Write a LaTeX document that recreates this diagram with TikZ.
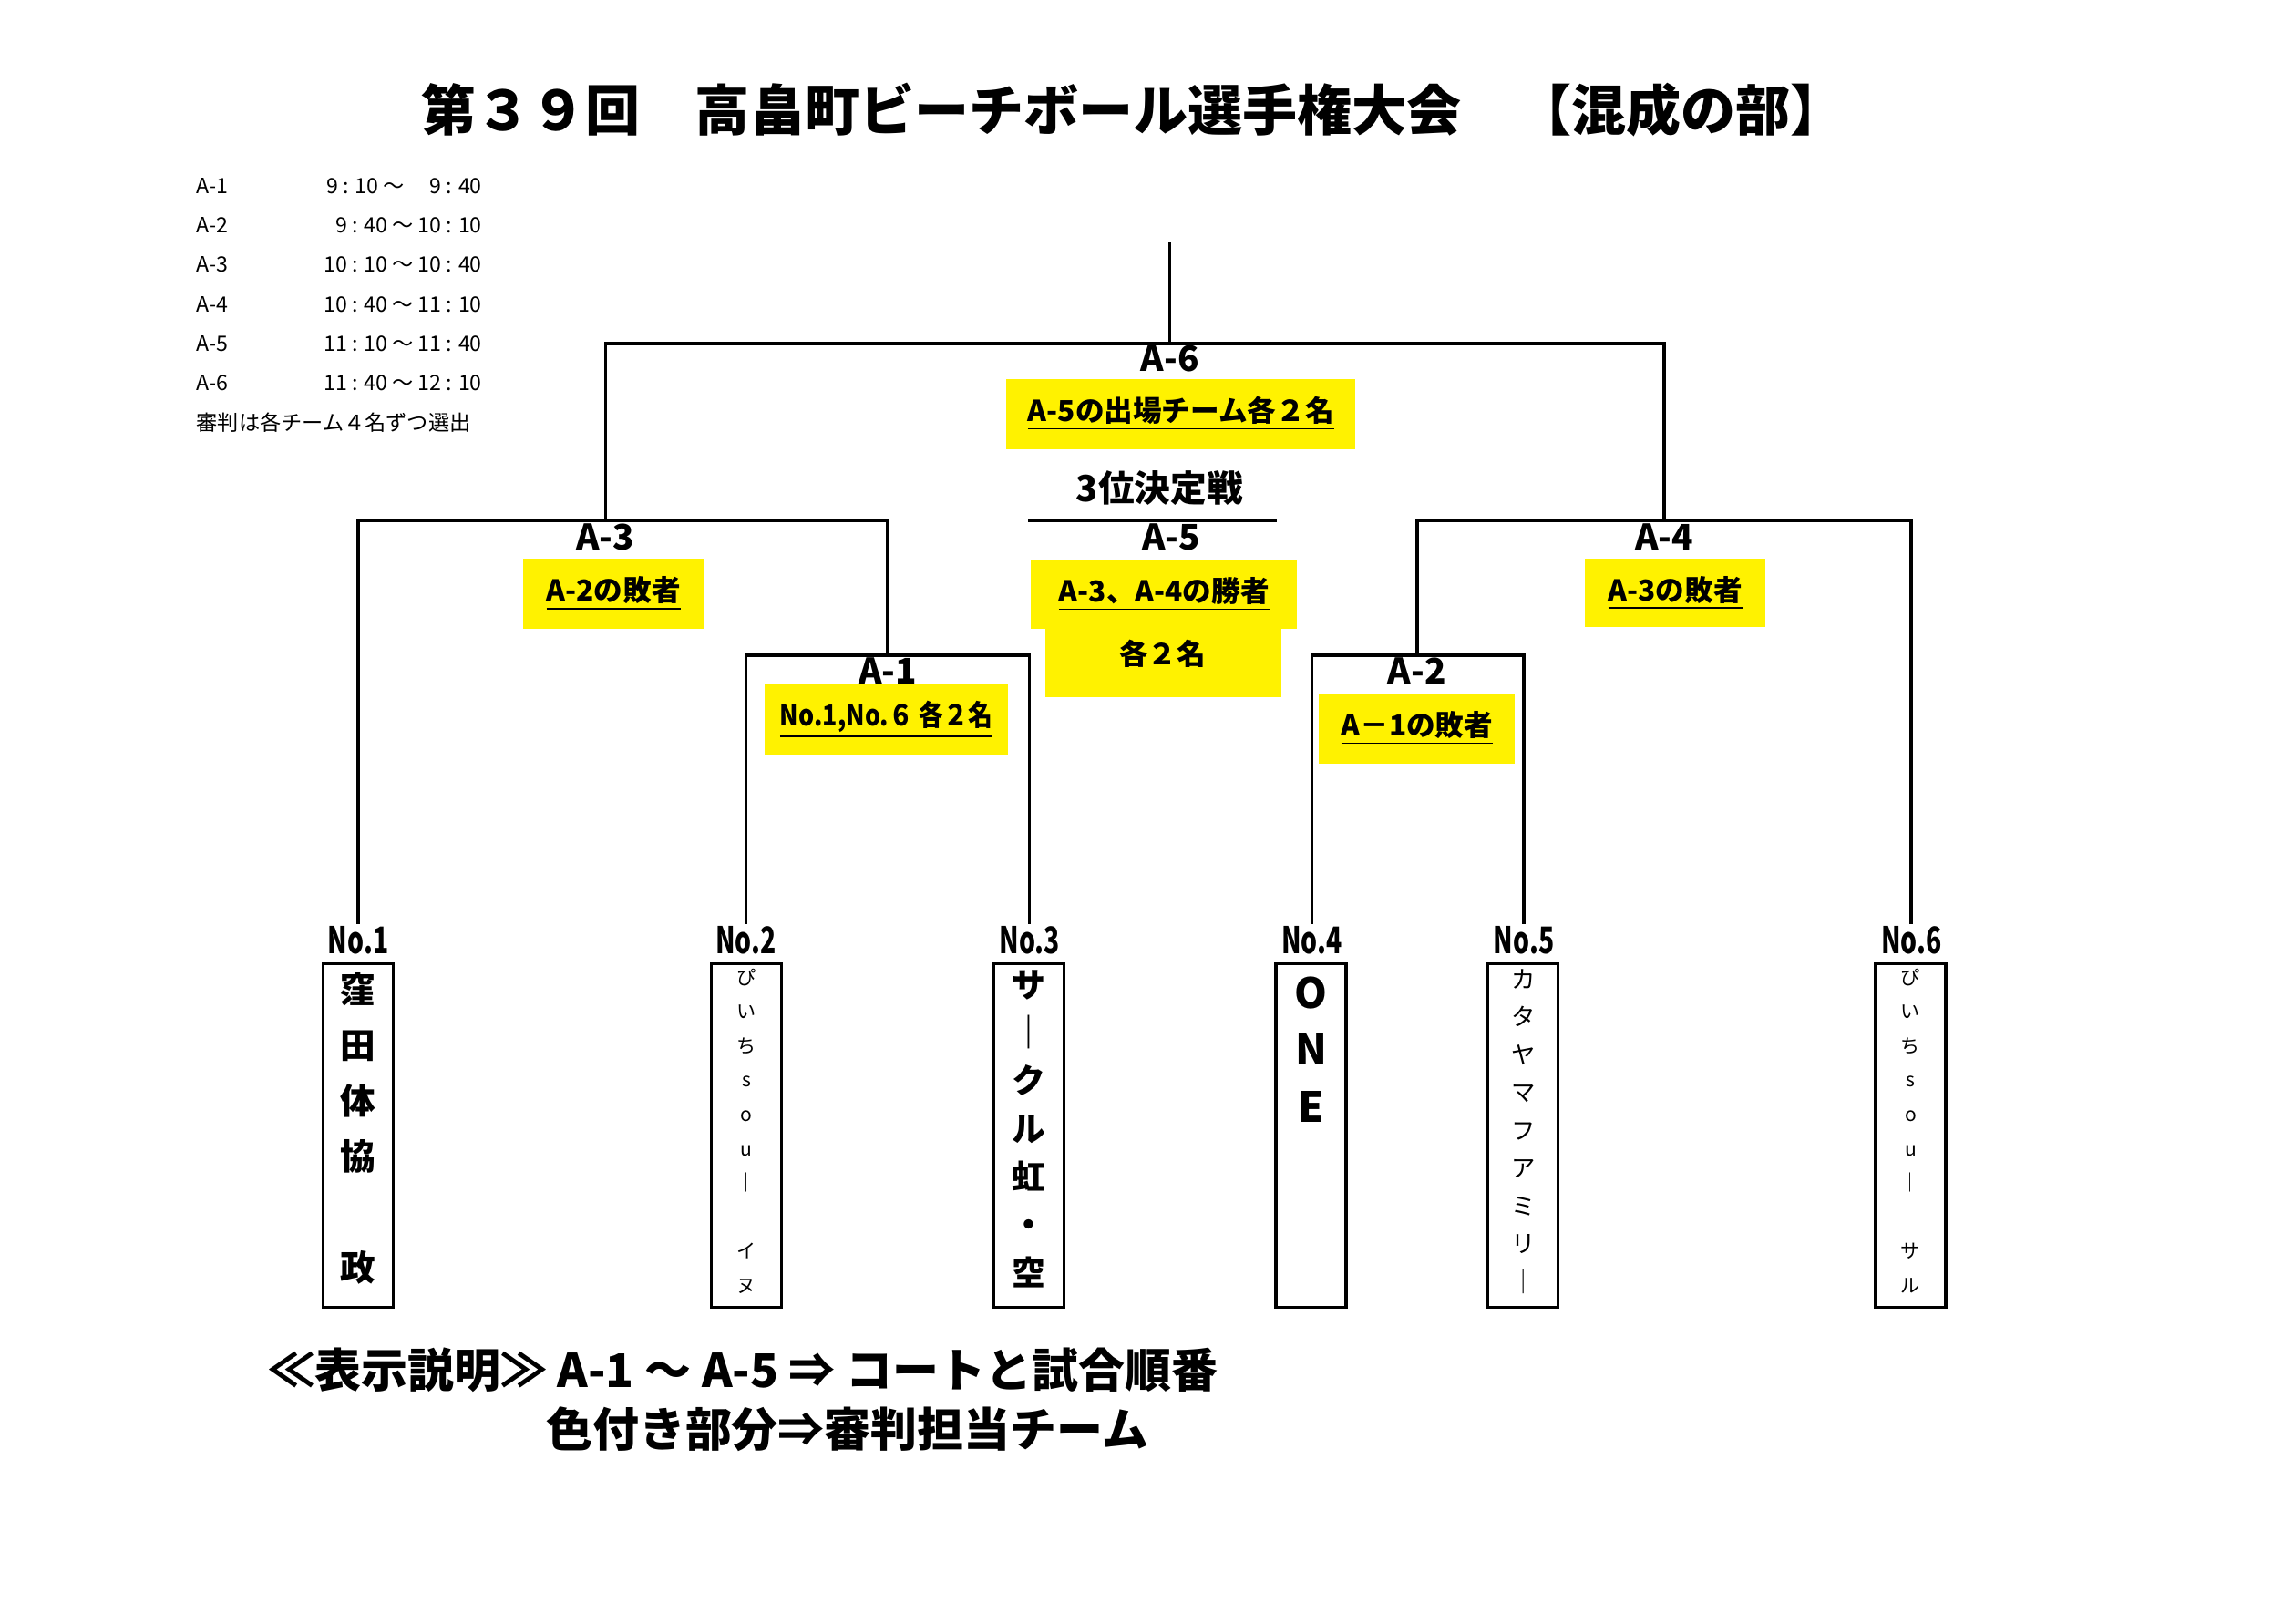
\documentclass[tikz,border=0pt]{standalone}
\usepackage{graphicx}
\usepackage{fontspec}
\setmainfont{Noto Sans CJK JP}[BoldFont={Noto Sans CJK JP Black}]
\usepackage{tikz}
\newlength\pxu
\setlength\pxu{0.016046cm}
\tikzset{
  wire/.style={line width=1pt},
  titletext/.style={font=\fontsize{17.1}{20}\selectfont\bfseries, inner sep=0pt},
  sched/.style={font=\fontsize{6.6}{8}\selectfont, inner sep=0pt},
  matchlabel/.style={font=\fontsize{11}{13}\selectfont\bfseries, inner sep=0pt},
  refbox/.style={fill=yellow, inner sep=0pt, font=\fontsize{9}{11}\selectfont\bfseries},
  numlabel/.style={font=\fontsize{11.5}{13}\selectfont\bfseries, inner sep=0.5pt},
  teambox/.style={draw, line width=1pt, minimum width=48\pxu, minimum height=235\pxu, inner sep=0pt},
  vtext/.style={align=center, inner sep=0pt, anchor=north},
  legend/.style={font=\fontsize{14.5}{17}\selectfont\bfseries, inner sep=0pt, anchor=west}
}

\begin{document}
\begin{tikzpicture}[x=0.016046cm, y=-0.016046cm]
  \useasboundingbox (0,0) rectangle (1568,1110);
  \node[titletext] (title) at (775,75) {第３９回　高畠町ビーチボール選手権大会　【混成の部】}; % title

  % time table
  \node[sched, anchor=west] (s1) at (134,127) {A-1};
  \node[sched, anchor=east] (s1t) at (330,127) {9 : 10 ～\hspace{1.2em}9 : 40};
  \node[sched, anchor=west] (s2) at (134,154) {A-2};
  \node[sched, anchor=east] (s2t) at (330,154) {9 : 40 ～ 10 : 10};
  \node[sched, anchor=west] (s3) at (134,181) {A-3};
  \node[sched, anchor=east] (s3t) at (330,181) {10 : 10 ～ 10 : 40};
  \node[sched, anchor=west] (s4) at (134,208) {A-4};
  \node[sched, anchor=east] (s4t) at (330,208) {10 : 40 ～ 11 : 10};
  \node[sched, anchor=west] (s5) at (134,235) {A-5};
  \node[sched, anchor=east] (s5t) at (330,235) {11 : 10 ～ 11 : 40};
  \node[sched, anchor=west] (s6) at (134,262) {A-6};
  \node[sched, anchor=east] (s6t) at (330,262) {11 : 40 ～ 12 : 10};
  \node[sched, anchor=west] (snote) at (134,289) {審判は各チーム４名ずつ選出};

  % match points
  \coordinate (top) at (800,165);
  \coordinate (a6) at (800,235);
  \coordinate (a3) at (414,356);
  \coordinate (a4) at (1138,356);
  \coordinate (a1) at (607,448);
  \coordinate (a2) at (969,448);
  \coordinate (a5l) at (703,356);
  \coordinate (a5r) at (873,356);

  % team labels and boxes
  \node[numlabel] (no1) at (245,643) {\scalebox{0.7}[1]{No.1}};
  \node[numlabel] (no2) at (510,643) {\scalebox{0.7}[1]{No.2}};
  \node[numlabel] (no3) at (704,643) {\scalebox{0.7}[1]{No.3}};
  \node[numlabel] (no4) at (897,643) {\scalebox{0.7}[1]{No.4}};
  \node[numlabel] (no5) at (1042,643) {\scalebox{0.7}[1]{No.5}};
  \node[numlabel] (no6) at (1307,643) {\scalebox{0.7}[1]{No.6}};
  \node[teambox] (box1) at (245,776.5) {};
  \node[teambox] (box2) at (510.5,776.5) {};
  \node[teambox] (box3) at (703.5,776.5) {};
  \node[teambox] (box4) at (896.5,776.5) {};
  \node[teambox] (box5) at (1041.5,776.5) {};
  \node[teambox] (box6) at (1306.5,776.5) {};

  % team names
  \node[vtext, font=\fontsize{11}{17.35}\selectfont\bfseries] (team1) at (245,665) {窪\\田\\体\\協\\[17.35pt]政};
  \node[vtext, font=\fontsize{6}{10.7}\selectfont] (team2) at (510.5,662) {ぴ\\い\\ち\\s\\o\\u\\｜\\[10.7pt]イ\\ヌ};
  \node[vtext, font=\fontsize{10.5}{15}\selectfont\bfseries] (team3) at (703.5,663) {サ\\｜\\ク\\ル\\虹\\・\\空};
  \node[vtext, font=\fontsize{13}{17.8}\selectfont\bfseries] (team4) at (896.5,667.5) {O\\N\\E};
  \node[vtext, font=\fontsize{7.5}{11.8}\selectfont] (team5) at (1041.5,662.5) {カ\\タ\\ヤ\\マ\\フ\\ア\\ミ\\リ\\｜};
  \node[vtext, font=\fontsize{6}{10.7}\selectfont] (team6) at (1306.5,662) {ぴ\\い\\ち\\s\\o\\u\\｜\\[10.7pt]サ\\ル};

  % wiring
  \draw[wire] (no1.north) |- (a3) -| (a1); % A-3
  \draw[wire] (no2.north) |- (a1) -| (no3.north); % A-1
  \draw[wire] (no4.north) |- (a2) -| (no5.north); % A-2
  \draw[wire] (a2) |- (a4) -| (no6.north); % A-4
  \draw[wire] (a3) |- (a6) -| (a4); % A-6
  \draw[wire] (a6) -- (top); % final
  \draw[wire] (a5l) -- (a5r); % A-5

  % match labels
  \node[matchlabel] (la6) at (800,245) {A-6};
  \node[matchlabel] (la5) at (801,367) {A-5};
  \node[matchlabel] (la3) at (414,367) {A-3};
  \node[matchlabel] (la4) at (1138,367) {A-4};
  \node[matchlabel] (la1) at (607,459) {A-1};
  \node[matchlabel] (la2) at (969,459) {A-2};
  \node[font=\fontsize{11.3}{13}\selectfont\bfseries, inner sep=0pt] (third) at (793,334) {3位決定戦};

  % referee boxes
  \node[refbox, minimum width=239\pxu, minimum height=48\pxu] (r6) at (807.5,283) {\underline{A-5の出場チーム各２名}};
  \node[refbox, minimum width=161\pxu, minimum height=47\pxu] (r5b) at (795.5,453.5) {};
  \node[refbox, minimum width=182\pxu, minimum height=47\pxu] (r5) at (796,406.5) {\underline{A-3、A-4の勝者}};
  \node[font=\fontsize{9}{11}\selectfont\bfseries, inner sep=0pt] (r5txt) at (795,447) {各２名};
  \node[refbox, minimum width=123\pxu, minimum height=48\pxu] (r3) at (419.5,406) {\underline{A-2の敗者}};
  \node[refbox, minimum width=123\pxu, minimum height=47\pxu] (r4) at (1145.5,405.5) {\underline{A-3の敗者}};
  \node[refbox, minimum width=166\pxu, minimum height=48\pxu] (r1) at (606,492) {\scalebox{0.85}[1]{\underline{No.1,No.６ 各２名}}};
  \node[refbox, minimum width=134\pxu, minimum height=48\pxu] (r2) at (969,498) {\underline{A－1の敗者}};

  % legend
  \node[legend] (leg1) at (183,937) {≪表示説明≫ A-1 ～ A-5 ⇒ コートと試合順番};
  \node[legend] (leg2) at (373,977) {色付き部分⇒審判担当チーム};
\end{tikzpicture}
\end{document}
